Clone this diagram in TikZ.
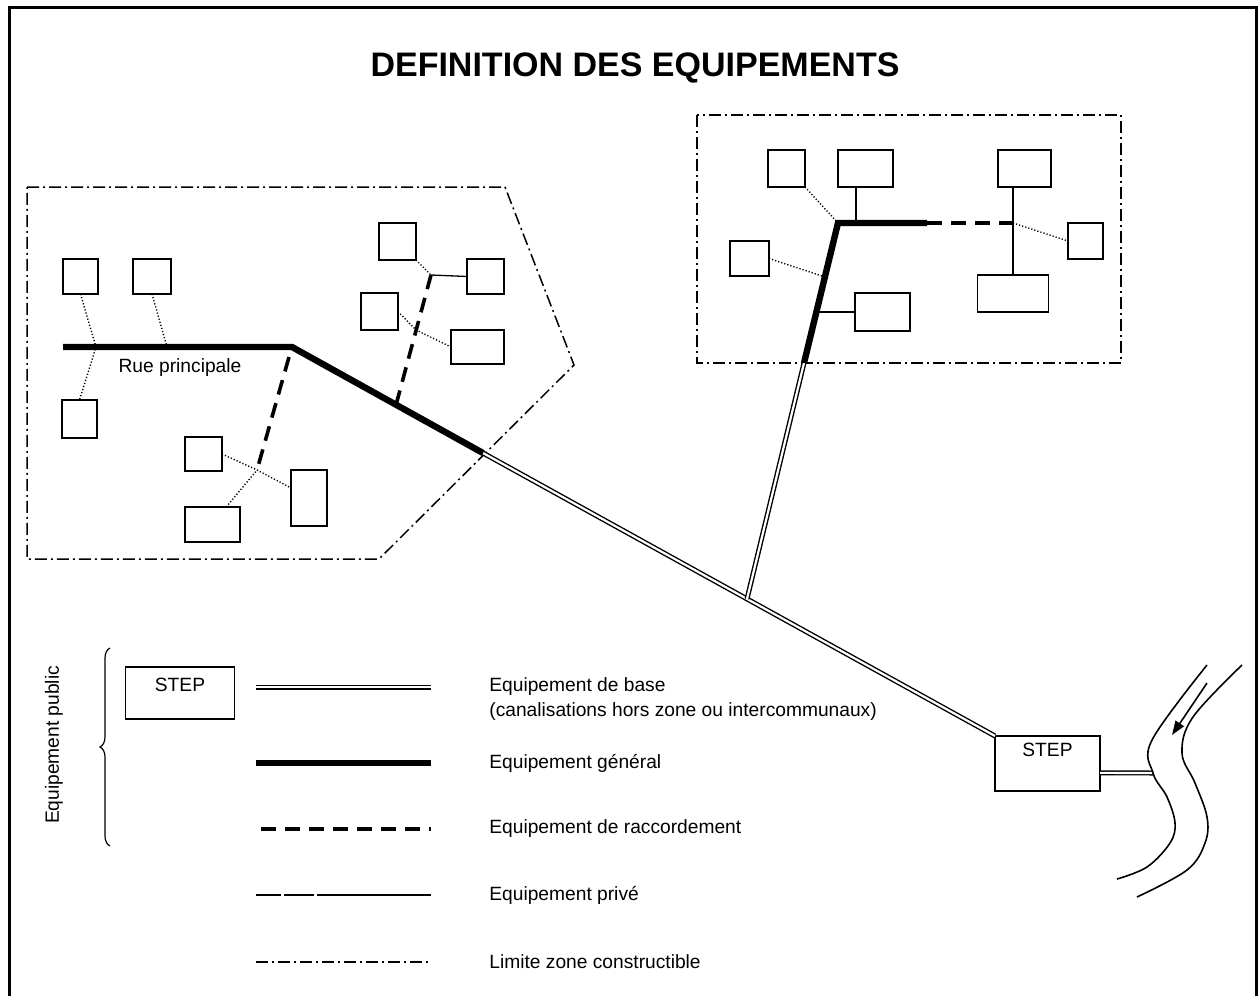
\documentclass[tikz,border=0pt]{standalone}
\usepackage{fontspec}
\setmainfont{Liberation Sans}
\usetikzlibrary{decorations.pathreplacing,arrows.meta,calc}
\tikzset{
  bx/.style 2 args={draw, line width=0.75pt, minimum width=#1*0.5pt, minimum height=#2*0.5pt, inner sep=0pt, outer sep=0pt},
  baseq/.style={double, line width=0.7pt, double distance=1.1pt},
  gen/.style={line width=3.2pt},
  racc/.style={line width=1.8pt, dash pattern=on 7.5pt off 4.5pt},
  priv/.style={line width=0.65pt},
  dotc/.style={line width=0.7pt, dash pattern=on 0.6pt off 1pt},
  limite/.style={line width=0.75pt, dash pattern=on 6pt off 2pt on 1pt off 2pt},
  txt/.style={font=\fontsize{9.6}{12.5}\selectfont},
  lab/.style={txt, anchor=west, inner sep=0pt, align=left},
}
\begin{document}
\begin{tikzpicture}[x=0.5pt,y=-0.5pt]
\useasboundingbox (0,0) rectangle (1259,996);
% frame
\draw[line width=1.5pt] (9,7) rectangle (1256,1012);
% title
\node[font=\bfseries\fontsize{17}{20}\selectfont, inner sep=0pt] (title) at (635,68) {DEFINITION DES EQUIPEMENTS};

% zones
\draw[limite] (27,187) -- (505,187) -- (574,365) -- (379,559) -- (27,559) -- cycle;
\draw[limite] (697,115) rectangle (1121,363);

% left boxes
\node[bx={35}{35}] (L1) at (80.5,276.5) {};
\node[bx={38}{35}] (L2) at (152,276.5) {};
\node[bx={35}{38}] (L3) at (79.5,419) {};
\node[bx={37}{37}] (L4) at (397.5,241.5) {};
\node[bx={37}{35}] (L5) at (485.5,276.5) {};
\node[bx={37}{37}] (L6) at (379.5,311.5) {};
\node[bx={53}{34}] (L7) at (477.5,347) {};
\node[bx={37}{34}] (L8) at (203.5,454) {};
\node[bx={36}{56}] (L9) at (309,498) {};
\node[bx={55}{35}] (L10) at (212.5,524.5) {};

% right boxes
\node[bx={37}{37}] (R1) at (786.5,168.5) {};
\node[bx={55}{37}] (R2) at (865.5,168.5) {};
\node[bx={53}{37}] (R3) at (1024.5,168.5) {};
\node[bx={39}{35}] (R4) at (749.5,258.5) {};
\node[bx={55}{38}] (R5) at (882.5,312) {};
\node[bx={35}{36}] (R6) at (1085.5,241) {};
\node[bx={71}{37}] (R7) at (1013,293.5) {};

% STEP
\node[bx={105}{55}, txt, text height=7pt, text depth=14pt] (stepbox) at (1047.5,763.5) {STEP};

% main line coordinates
\coordinate (r0) at (63,347);
\coordinate (r1) at (292,347);
\coordinate (r2) at (483,453);
\coordinate (b0) at (747,599);
\coordinate (b1) at (804,363);
\coordinate (b2) at (838,223);
\coordinate (b3) at (927,223);
\coordinate (b4) at (1015,223);

\draw[baseq] (r2) -- (stepbox.north west);
\draw[baseq] (b0) -- (b1);
\draw[gen] (r0) -- (r1) -- (r2);
\draw[gen, line join=miter] (b1) -- (b2) -- (b3);
\draw[racc] (b3) -- (b4);

\node[txt, inner sep=0pt] (rue) at (180,368) {Rue principale};

% left connectors
\coordinate (j1) at (96,347);
\coordinate (j2) at (167,347);
\draw[dotc] (L1.south) -- (j1) -- (L3.north);
\draw[dotc] (L2.south) -- (j2);
\coordinate (d1a) at (289,357);
\coordinate (d1b) at (257,470);
\draw[racc] (d1a) -- (d1b);
\draw[dotc] (L8.east) -- (d1b) -- ($(L9.north west)!0.32!(L9.south west)$);
\draw[dotc] ($(L10.north west)!0.75!(L10.north east)$) -- (d1b);
\coordinate (d2a) at (396,405);
\coordinate (d2b) at (431,275);
\coordinate (d2c) at (416,330);
\draw[racc] (d2a) -- (d2b);
\draw[dotc] (L4.south east) -- (d2b);
\draw[priv] (d2b) -- (L5.west);
\draw[dotc] (L6.east) -- (d2c) -- (L7.west);

% right connectors
\coordinate (j4) at (825,277);
\coordinate (j5) at (816,312);
\coordinate (jc) at (1013,223);
\draw[dotc] (R1.south east) -- (b2);
\draw[priv] (R2.south -| 856,0) -- (856,223);
\draw[dotc] (R4.east) -- (j4);
\draw[priv] (R5.west) -- (j5);
\draw[priv] (R3.south -| R7.north) -- (R7.north);
\draw[dotc] (jc) -- (R6.west);

% river
\coordinate (so) at ($(stepbox.north east)!0.67!(stepbox.south east)$);
\coordinate (rv) at (1153,773);
\draw[baseq] (so) -- (rv);
\draw[line width=0.8pt] plot[smooth, tension=0.6] coordinates {(1207,665) (1152,740) (1153,773) (1167,797) (1175,823) (1170,843) (1147,867) (1117,879)};
\draw[line width=0.8pt] plot[smooth, tension=0.6] coordinates {(1242,665) (1193,717) (1182,753) (1195,783) (1207,817) (1205,843) (1187,870) (1137,897)};
\coordinate (a0) at (1207,683);
\coordinate (a1) at (1172,735);
\draw[line width=0.8pt, -{Triangle[length=7pt,width=5pt]}] (a0) -- (a1);

% legend
\node[bx={109}{52}, txt, text height=7pt, text depth=9pt] (lstep) at (180,693) {STEP};
\draw[line width=0.6pt, decorate, decoration={brace, amplitude=5pt}] (110,846) -- (110,648);
\node[rotate=90, txt, inner sep=0pt] (pub) at (54,745) {Equipement public};

\draw[baseq] (256,687) -- (431,687);
\draw[gen] (256,763) -- (431,763);
\draw[racc] (261,829) -- (431,829);
\draw[priv, dash pattern=on 12.5pt off 1.5pt on 15pt off 1.5pt on 200pt off 0pt] (256,895) -- (431,895);
\draw[limite] (256,962) -- (431,962);

\node[lab] (t1) at (489,699.5) {Equipement de base\\(canalisations hors zone ou intercommunaux)};
\node[lab] (t2) at (489,763) {Equipement général};
\node[lab] (t3) at (489,829) {Equipement de raccordement};
\node[lab] (t4) at (489,895) {Equipement privé};
\node[lab] (t5) at (489,962) {Limite zone constructible};
\end{tikzpicture}
\end{document}
